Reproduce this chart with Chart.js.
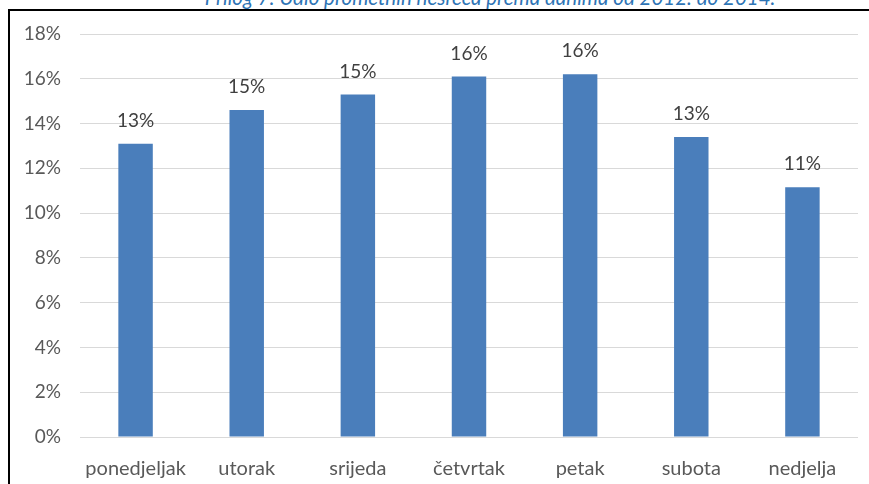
<!DOCTYPE html>
<html>
<head>
<meta charset="utf-8">
<script src="https://cdn.jsdelivr.net/npm/chart.js@4/dist/chart.umd.min.js"></script>
<style>
  html, body { margin: 0; padding: 0; width: 869px; height: 484px; overflow: hidden; background: #fff; }
  #frame { position: absolute; left: 8px; top: 9px; width: 900px; height: 520px; border: 2px solid #000; }
  #title { position: absolute; left: 0; width: 980px; top: -15px; text-align: center;
           font: italic 20.5px Lato, sans-serif; color: #2e74b5; white-space: nowrap; }
  #wrap { position: absolute; left: 0; top: 0; width: 869px; height: 484px; }
</style>
</head>
<body>
<div id="frame"></div>
<div id="title">Prilog 7: Udio prometnih nesreća prema danima od 2012. do 2014.</div>
<div id="wrap"><canvas id="chart"></canvas></div>
<script>
// ── Data ──────────────────────────────────────────────────────────────────────
var days   = ['ponedjeljak', 'utorak', 'srijeda', 'četvrtak', 'petak', 'subota', 'nedjelja'];
var shares = [13.1, 14.6, 15.3, 16.1, 16.2, 13.4, 11.15];
var yTicks = [0, 2, 4, 6, 8, 10, 12, 14, 16, 18];

var FONT = 'Lato, sans-serif';
var FSIZE = 19;

// ── Value labels above bars ───────────────────────────────────────────────────
var valueLabels = {
  id: 'valueLabels',
  afterDatasetsDraw: function(chart) {
    var ctx = chart.ctx;
    var meta = chart.getDatasetMeta(0);
    ctx.save();
    ctx.font = FSIZE + 'px ' + FONT;
    ctx.fillStyle = '#404040';
    ctx.textAlign = 'center';
    ctx.textBaseline = 'middle';
    meta.data.forEach(function(bar, i) {
      ctx.fillText(Math.round(shares[i]) + '%', bar.x, bar.y - 23);
    });
    ctx.restore();
  }
};

new Chart(document.getElementById('chart'), {
  type: 'bar',
  data: {
    labels: days,
    datasets: [{ data: shares, backgroundColor: '#4a7ebb', borderWidth: 0,
                 barPercentage: 0.62, categoryPercentage: 0.5 }]
  },
  options: {
    responsive: true, maintainAspectRatio: false, animation: false,
    layout: { padding: { left: 10, right: 11, top: 34, bottom: 0 } },
    plugins: { legend: { display: false }, tooltip: { enabled: false } },
    scales: {
      x: {
        grid: { display: false }, border: { display: false },
        ticks: { color: '#595959', font: { family: FONT, size: 20 }, padding: 12, maxRotation: 0 },
        afterFit: function(s) { s.height = 47; }
      },
      y: {
        min: 0, max: 18,
        afterBuildTicks: function(s) { s.ticks = yTicks.map(function(v) { return { value: v }; }); },
        grid: { color: '#d9d9d9', lineWidth: 1, drawTicks: false }, border: { display: false },
        ticks: { color: '#595959', font: { family: FONT, size: FSIZE }, padding: 19,
                 callback: function(v) { return v + '%'; } },
        afterFit: function(s) { s.width = 70; }
      }
    }
  },
  plugins: [valueLabels]
});
</script>
</body>
</html>
